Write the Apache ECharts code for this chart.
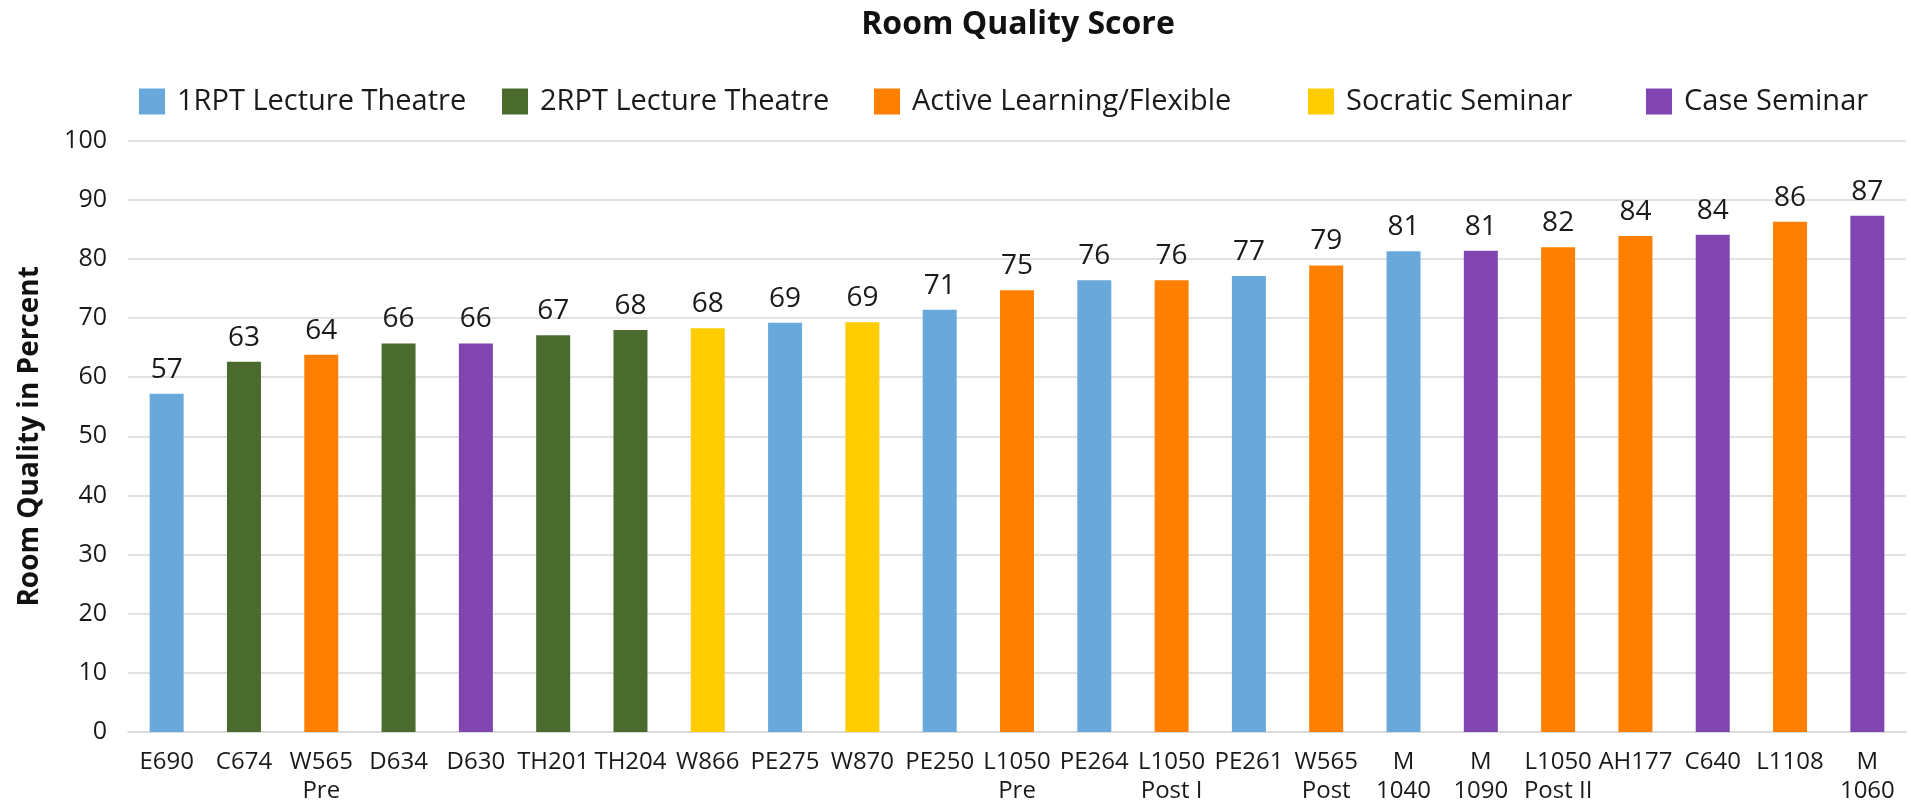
<!DOCTYPE html>
<html>
<head>
<meta charset="utf-8">
<script src="https://cdn.jsdelivr.net/npm/echarts@6/dist/echarts.min.js"></script>
<style>
html,body{margin:0;padding:0;background:#fff;}
#chart{width:1911px;height:806px;}
</style>
</head>
<body>
<div id="chart"></div>
<script>
const categories = ['E690','C674','W565\nPre','D634','D630','TH201','TH204','W866','PE275','W870','PE250','L1050\nPre','PE264','L1050\nPost I','PE261','W565\nPost','M\n1040','M\n1090','L1050\nPost II','AH177','C640','L1108','M\n1060'];
const values = [57.2,62.6,63.8,65.7,65.7,67.1,68.0,68.3,69.2,69.3,71.4,74.7,76.4,76.4,77.1,78.9,81.3,81.4,82.0,83.9,84.1,86.3,87.3];
const groups = ['1RPT Lecture Theatre','2RPT Lecture Theatre','Active Learning/Flexible','2RPT Lecture Theatre','Case Seminar','2RPT Lecture Theatre','2RPT Lecture Theatre','Socratic Seminar','1RPT Lecture Theatre','Socratic Seminar','1RPT Lecture Theatre','Active Learning/Flexible','1RPT Lecture Theatre','Active Learning/Flexible','1RPT Lecture Theatre','Active Learning/Flexible','1RPT Lecture Theatre','Case Seminar','Active Learning/Flexible','Active Learning/Flexible','Case Seminar','Active Learning/Flexible','Case Seminar'];
const seriesNames = ['1RPT Lecture Theatre','2RPT Lecture Theatre','Active Learning/Flexible','Socratic Seminar','Case Seminar'];
const seriesColors = ['#69A8DB','#4A6A2E','#FF7F00','#FFCC00','#8045B0'];
const yTicks = [0,10,20,30,40,50,60,70,80,90,100];

const FONT = '"Open Sans", "Noto Sans", sans-serif';
const legendLefts = [139, 502, 874, 1308, 1646];

const chart = echarts.init(document.getElementById('chart'));
const option = {
  backgroundColor: '#ffffff',
  animation: false,
  textStyle: { fontFamily: FONT },
  title: {
    text: 'Room Quality Score',
    left: 1013,
    textAlign: 'center',
    top: 4,
    textStyle: { fontFamily: FONT, fontSize: 32, fontWeight: 'bold', color: '#111' }
  },
  legend: seriesNames.map((n, i) => ({
    data: [n],
    left: legendLefts[i],
    top: 87,
    padding: 0,
    itemWidth: 26,
    itemHeight: 26,
    selectedMode: false,
    icon: 'rect',
    textStyle: { fontFamily: FONT, fontSize: 29, color: '#1a1a1a', padding: [0, 0, 0, 7] }
  })),
  grid: { left: 128, right: 5, top: 140.7, bottom: 806 - 740.7, containLabel: false },
  xAxis: {
    type: 'category',
    data: categories,
    axisTick: { show: false },
    axisLine: { lineStyle: { color: '#d9d9d9', width: 1.5 } },
    axisLabel: { interval: 0, fontFamily: FONT, fontSize: 24, lineHeight: 29, color: '#1a1a1a', margin: 16 }
  },
  yAxis: {
    type: 'value',
    min: 0, max: 100, interval: 10,
    name: 'Room Quality in Percent',
    nameLocation: 'middle',
    nameGap: 84,
    nameTextStyle: { fontFamily: FONT, fontSize: 28, fontWeight: 'bold', color: '#111' },
    axisLine: { show: false },
    axisTick: { show: false },
    axisLabel: {
      fontFamily: FONT, fontSize: 25, color: '#1a1a1a', margin: 21,
      formatter: v => yTicks.includes(v) ? String(v) : ''
    },
    splitLine: { lineStyle: { color: '#d9d9d9', width: 1.5 } }
  },
  series: seriesNames.map((n, si) => ({
    name: n,
    type: 'bar',
    barWidth: 34,
    barGap: '-100%',
    itemStyle: { color: seriesColors[si] },
    label: {
      show: true, position: 'top', distance: 10,
      fontFamily: FONT, fontSize: 28, color: '#1a1a1a',
      formatter: p => Math.round(p.value)
    },
    data: values.map((v, i) => groups[i] === n ? v : '-')
  }))
};
chart.setOption(option);
</script>
</body>
</html>
